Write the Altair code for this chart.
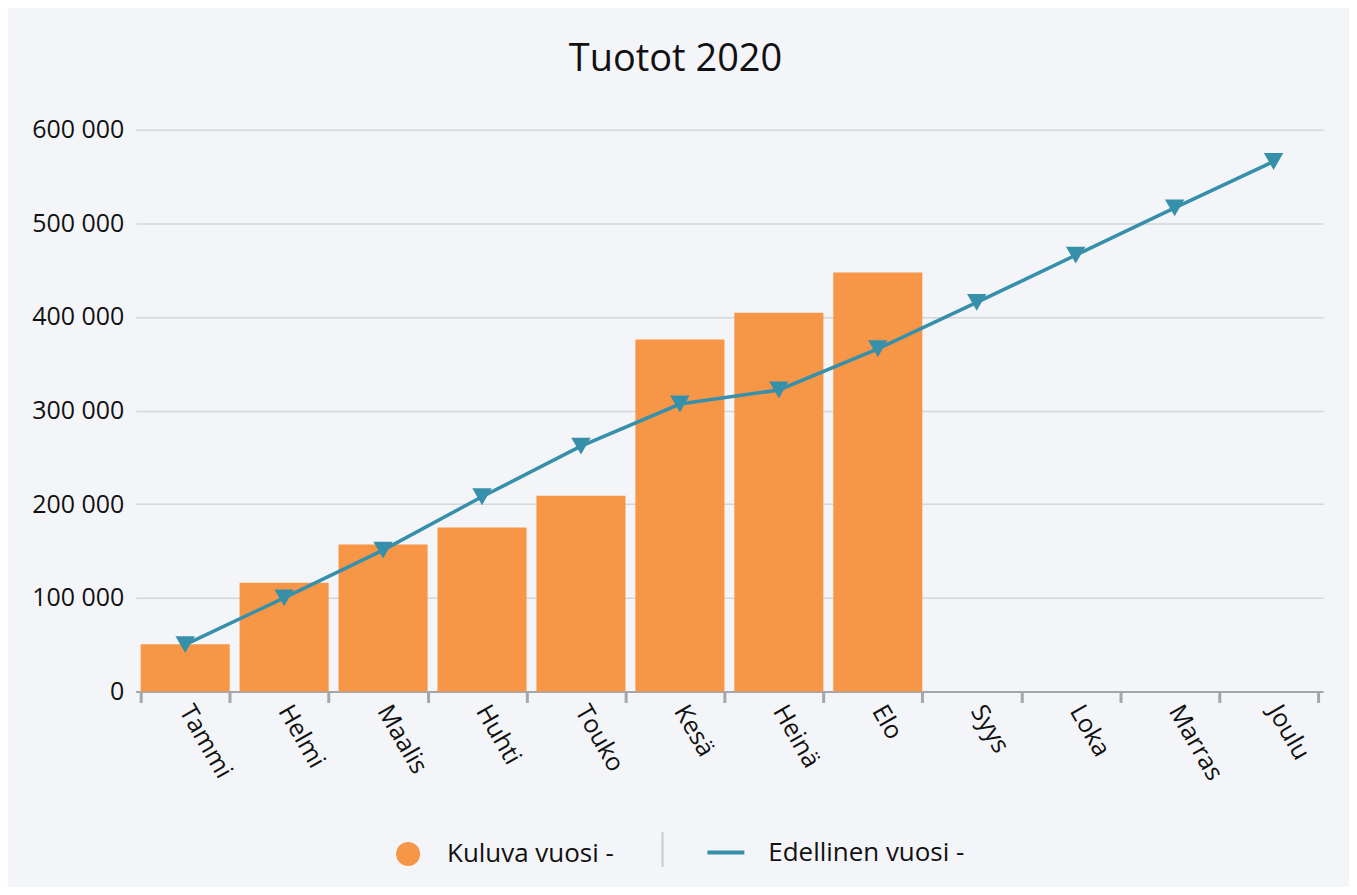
import altair as alt
import pandas as pd

months = ["Tammi", "Helmi", "Maalis", "Huhti", "Touko", "Kesä",
          "Heinä", "Elo", "Syys", "Loka", "Marras", "Joulu"]
current_year = [50500, 116000, 157000, 175000, 209000, 376000,
                404500, 447500, None, None, None, None]
previous_year = [50000, 100000, 151000, 208000, 262000, 307000,
                 322000, 366000, 415500, 466000, 516500, 566000]
series_names = ["Kuluva vuosi -", "Edellinen vuosi -"]
y_ticks = [0, 100000, 200000, 300000, 400000, 500000, 600000]

ORANGE = "#f79646"
TEAL = "#3790a9"
BG = "#f4f5f9"
FONT = "Open Sans"
FS = 26

df = pd.DataFrame({"month": months, "current": current_year, "previous": previous_year})
df["cur_name"] = series_names[0]
df["prev_name"] = series_names[1]

x_enc = alt.X(
    "month:N", sort=months, title=None,
    scale=alt.Scale(paddingInner=0.1, paddingOuter=0.05),
    axis=alt.Axis(
        labelAngle=60, tickBand="extent", labelFontSize=FS - 1, labelFont=FONT,
        labelColor="#111111", domainColor="#a3a6ab", domainWidth=2,
        tickColor="#a3a6ab", tickWidth=3, tickSize=11, labelPadding=4,
        grid=False,
    ),
)

y_scale = alt.Scale(domain=[0, 600000], nice=False)
y_axis = alt.Axis(
    values=y_ticks, labelFontSize=FS - 1, labelFont=FONT, labelColor="#111111",
    domain=False, ticks=False, labelPadding=12, gridColor="#d4d6da", gridWidth=1.5,
    labelExpr="replace(format(datum.value, ','), regexp(',', 'g'), ' ')",
)

base = alt.Chart(df)

bars = base.transform_filter("isValid(datum.current)").mark_bar(color=ORANGE).encode(
    x=x_enc,
    y=alt.Y("current:Q", scale=y_scale, axis=y_axis, title=None),
    fill=alt.Fill(
        "cur_name:N",
        scale=alt.Scale(domain=[series_names[0]], range=[ORANGE]),
        legend=alt.Legend(
            title=None, orient="none", legendX=260, legendY=713, symbolType="circle",
            symbolSize=576, symbolStrokeWidth=0, labelFontSize=FS, labelFont=FONT,
            labelColor="#111111", labelOffset=26, padding=0, labelLimit=500,
        ),
    ),
)

line = base.mark_line(strokeWidth=3.5).encode(
    x=x_enc,
    y=alt.Y("previous:Q", scale=y_scale, title=None),
    stroke=alt.Stroke(
        "prev_name:N",
        scale=alt.Scale(domain=[series_names[1]], range=[TEAL]),
        legend=alt.Legend(
            title=None, orient="none", legendX=571, legendY=704, symbolType="stroke",
            symbolSize=1369, symbolStrokeWidth=4, labelFontSize=FS, labelFont=FONT,
            labelColor="#111111", labelOffset=22, padding=0, labelLimit=500,
        ),
    ),
)

points = base.mark_point(shape="triangle-down", filled=True, size=380, color=TEAL, opacity=1).encode(
    x=x_enc,
    y=alt.Y("previous:Q", scale=y_scale, title=None),
)

sep = alt.Chart(pd.DataFrame({"k": [0]})).mark_rule(color="#c9cacc", strokeWidth=2).encode(
    x=alt.value(528), y=alt.value(704), y2=alt.value(739)
)

chart = alt.layer(bars, line, points, sep).properties(
    width=1190, height=563,
    autosize=alt.AutoSizeParams(type="none"),
    padding={"left": 128, "top": 121, "right": 26, "bottom": 195},
    background=BG,
    title=alt.TitleParams("Tuotot 2020", fontSize=38, font=FONT, fontWeight="normal",
                          color="#111111", anchor="middle", offset=39, dx=-54),
).configure_view(stroke=None)

chart.save("out.html", embed_options={"renderer": "svg", "actions": False})
